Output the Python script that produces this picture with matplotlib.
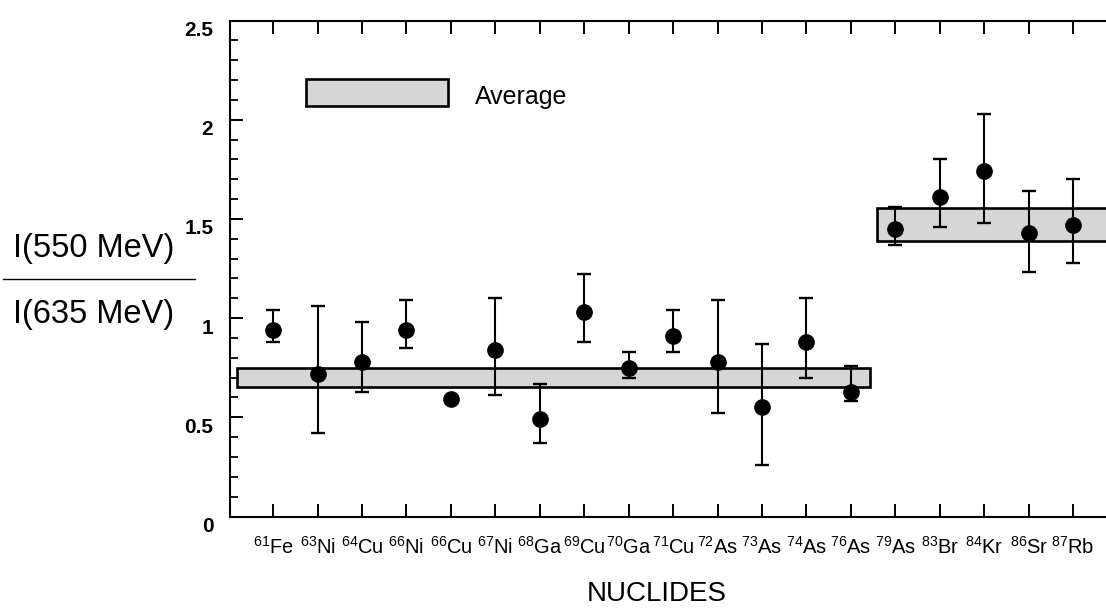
import numpy as np
import matplotlib
matplotlib.use("Agg")
import matplotlib.pyplot as plt
from matplotlib.patches import Rectangle
from matplotlib.lines import Line2D
import matplotlib.transforms as mtransforms

plt.rcParams['font.family'] = ['Liberation Sans', 'DejaVu Sans']
plt.rcParams['mathtext.fontset'] = 'custom'
plt.rcParams['mathtext.rm'] = 'Liberation Sans'
plt.rcParams['mathtext.it'] = 'Liberation Sans:italic'
plt.rcParams['mathtext.bf'] = 'Liberation Sans:bold'
plt.rcParams['mathtext.default'] = 'rm'

# nuclides (mass number, element)
mass = ['61', '63', '64', '66', '66', '67', '68', '69', '70', '71',
        '72', '73', '74', '76', '79', '83', '84', '86', '87']
element = ['Fe', 'Ni', 'Cu', 'Ni', 'Cu', 'Ni', 'Ga', 'Cu', 'Ga', 'Cu',
           'As', 'As', 'As', 'As', 'As', 'Br', 'Kr', 'Sr', 'Rb']

# ratio I(550 MeV)/I(635 MeV) with error bar ends
ratio = [0.94, 0.72, 0.78, 0.94, 0.59, 0.84, 0.49, 1.03, 0.75, 0.91,
         0.78, 0.55, 0.88, 0.63, 1.45, 1.61, 1.74, 1.43, 1.47]
err_hi = [1.04, 1.06, 0.98, 1.09, 0.59, 1.10, 0.67, 1.22, 0.83, 1.04,
          1.09, 0.87, 1.10, 0.76, 1.56, 1.80, 2.03, 1.64, 1.70]
err_lo = [0.88, 0.42, 0.63, 0.85, 0.59, 0.61, 0.37, 0.88, 0.70, 0.83,
          0.52, 0.26, 0.70, 0.58, 1.37, 1.46, 1.48, 1.23, 1.28]

# averages for the two groups: (first index, last index, low, high)
avg_light = (0, 13, 0.651, 0.747)
avg_heavy = (14, 18, 1.388, 1.554)

x = np.arange(len(ratio))
ratio = np.array(ratio)
yerr = np.array([ratio - np.array(err_lo), np.array(err_hi) - ratio])

fig = plt.figure(figsize=(11.06, 6.08), dpi=100)
ax = fig.add_axes([230 / 1106, 1 - 516.5 / 608, 876 / 1106, 496 / 608])

band_color = '#d6d6d6'
for (i0, i1, lo, hi), (ml, mr) in zip([avg_light, avg_heavy], [(0.81, 0.43), (0.41, 1.0)]):
    ax.add_patch(Rectangle((i0 - ml, lo), (i1 - i0) + ml + mr, hi - lo,
                           facecolor=band_color, edgecolor='black', lw=1.9, zorder=1))

ax.errorbar(x, ratio, yerr=yerr, fmt='o', color='black', ms=11, ecolor='black',
            elinewidth=1.5, capsize=4.7, capthick=1.7, zorder=3)

ax.set_xlim(-0.97, 18.74)
ax.set_ylim(0, 2.5)
ax.set_xticks(x)
ax.set_xticklabels([r'$^{%s}$%s' % (m, e) for m, e in zip(mass, element)], fontsize=14.5)
ax.set_yticks([0, 0.5, 1, 1.5, 2, 2.5])
ax.set_yticklabels(['0', '0.5', '1', '1.5', '2', '2.5'], fontsize=15, fontweight='bold')
ax.set_yticks(np.arange(0, 2.51, 0.1), minor=True)
ax.tick_params(axis='both', which='major', direction='in', length=9.5, width=1.4,
               top=True, right=False)
ax.tick_params(axis='y', which='minor', direction='in', length=5.8, width=1.3)
ax.tick_params(axis='y', pad=12)
ax.tick_params(axis='x', pad=14)
ax.spines['right'].set_visible(False)
for s in ['left', 'bottom', 'top']:
    ax.spines[s].set_linewidth(1.5)

# y tick labels sit a bit below their ticks in the original
off = mtransforms.ScaledTranslation(0, -8 / 100, fig.dpi_scale_trans)
for lab in ax.get_yticklabels():
    lab.set_transform(lab.get_transform() + off)

# legend box
ax.add_patch(Rectangle((0.0868, 0.8276), 0.162, 0.0544, transform=ax.transAxes,
                       facecolor=band_color, edgecolor='black', lw=1.9, clip_on=False))
ax.text(0.2797, 0.8458, 'Average', transform=ax.transAxes, fontsize=18,
        va='center', ha='left')

# y label drawn as a fraction
fig.text(94 / 1106, 1 - 249 / 608, 'I(550 MeV)', fontsize=23.5, ha='center', va='center')
fig.text(94 / 1106, 1 - 315 / 608, 'I(635 MeV)', fontsize=23.5, ha='center', va='center')
fig.add_artist(Line2D([3 / 1106, 195 / 1106], [1 - 279 / 608, 1 - 279 / 608],
                      color='black', lw=1.0, transform=fig.transFigure))

fig.text(657 / 1106, 1 - 594 / 608, 'NUCLIDES', fontsize=20, ha='center', va='center')

fig.savefig('out.png', dpi=100)
